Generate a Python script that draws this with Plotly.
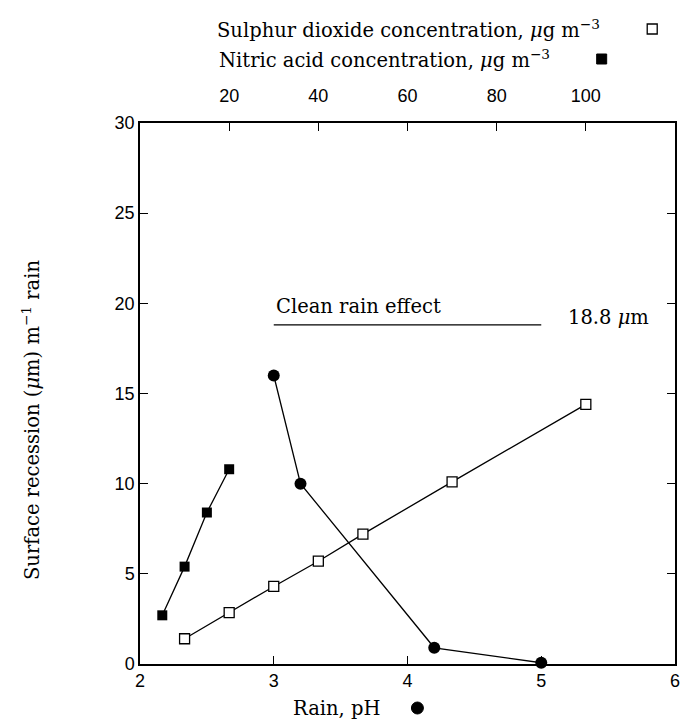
import plotly.graph_objects as go

# Data
so2_conc = [10, 20, 30, 40, 50, 70, 100]
so2_recession = [1.4, 2.85, 4.3, 5.7, 7.2, 10.1, 14.4]
hno3_conc = [5, 10, 15, 20]
hno3_recession = [2.7, 5.4, 8.4, 10.8]
rain_ph = [3.0, 3.2, 4.2, 5.0]
ph_recession = [16.0, 10.0, 0.9, 0.07]
clean_rain_ph = [3.0, 5.0]
clean_rain_value = 18.8

ph_ticks = [2, 3, 4, 5, 6]
conc_ticks = [20, 40, 60, 80, 100]
y_ticks = [0, 5, 10, 15, 20, 25, 30]

TXT = "DejaVu Serif"
NUM = "Liberation Sans"
LC = "black"
FS = 19.5

fig = go.Figure()

fig.add_trace(go.Scatter(x=clean_rain_ph, y=[clean_rain_value] * 2, mode="lines",
                         line=dict(color=LC, width=1.3), xaxis="x", yaxis="y",
                         showlegend=False, hoverinfo="skip"))
fig.add_trace(go.Scatter(x=rain_ph, y=ph_recession, mode="lines+markers",
                         line=dict(color=LC, width=1.3),
                         marker=dict(symbol="circle", size=12, color=LC),
                         xaxis="x", yaxis="y", showlegend=False, cliponaxis=False))
fig.add_trace(go.Scatter(x=so2_conc, y=so2_recession, mode="lines+markers",
                         line=dict(color=LC, width=1.3),
                         marker=dict(symbol="square", size=10, color="white",
                                     line=dict(color=LC, width=1.3)),
                         xaxis="x2", yaxis="y", showlegend=False))
fig.add_trace(go.Scatter(x=hno3_conc, y=hno3_recession, mode="lines+markers",
                         line=dict(color=LC, width=1.3),
                         marker=dict(symbol="square", size=10, color=LC),
                         xaxis="x2", yaxis="y", showlegend=False))

L, R, T, B = 140, 2, 123, 61
W, H = 682, 725
pw, ph_ = W - L - R, H - T - B


def px(xp):
    return (xp - L) / pw


def py(yp):
    return (H - B - yp) / ph_


annotations = [
    dict(x=3.0, y=19.85, xref="x", yref="y", text="Clean rain effect", showarrow=False,
         xanchor="left", yanchor="middle", font=dict(family=TXT, size=FS, color=LC)),
    dict(x=5.5, y=19.2, xref="x", yref="y", text="18.8 <i>μ</i>m", showarrow=False,
         xanchor="center", yanchor="middle", font=dict(family=TXT, size=FS, color=LC)),
    dict(x=px(216), y=py(29), xref="paper", yref="paper",
         text="Sulphur dioxide concentration, <i>μ</i>g m<sup>−3</sup>", showarrow=False,
         xanchor="left", yanchor="middle", font=dict(family=TXT, size=FS, color=LC)),
    dict(x=px(218), y=py(59), xref="paper", yref="paper",
         text="Nitric acid concentration, <i>μ</i>g m<sup>−3</sup>", showarrow=False,
         xanchor="left", yanchor="middle", font=dict(family=TXT, size=FS, color=LC)),
    dict(x=px(30), y=py(420), xref="paper", yref="paper", textangle=-90,
         text="Surface recession (<i>μ</i>m) m<sup>−1</sup> rain", showarrow=False,
         xanchor="center", yanchor="middle", font=dict(family=TXT, size=FS, color=LC)),
    dict(x=px(338), y=py(708), xref="paper", yref="paper", text="Rain, pH", showarrow=False,
         xanchor="center", yanchor="middle", font=dict(family=TXT, size=FS, color=LC)),
]

shapes = [
    dict(type="rect", xref="paper", yref="paper", xsizemode="pixel", ysizemode="pixel",
         xanchor=px(657), yanchor=py(29), x0=-5, x1=5, y0=-5, y1=5,
         line=dict(color=LC, width=1.3), fillcolor="white"),
    dict(type="rect", xref="paper", yref="paper", xsizemode="pixel", ysizemode="pixel",
         xanchor=px(606), yanchor=py(59), x0=-5, x1=5, y0=-5, y1=5,
         line=dict(color=LC, width=1), fillcolor=LC),
    dict(type="circle", xref="paper", yref="paper", xsizemode="pixel", ysizemode="pixel",
         xanchor=px(420), yanchor=py(708), x0=-6, x1=6, y0=-6, y1=6,
         line=dict(color=LC, width=1), fillcolor=LC),
]

fig.update_layout(
    width=W, height=H,
    margin=dict(l=L, r=R, t=T, b=B),
    paper_bgcolor="white", plot_bgcolor="white",
    showlegend=False,
    xaxis=dict(range=[2, 6], tickvals=ph_ticks, ticks="inside", ticklen=8,
               tickcolor=LC, tickwidth=1.2, showgrid=False, zeroline=False,
               showline=True, linecolor=LC, linewidth=1.5, mirror=False,
               ticklabeloverflow="allow",
               tickfont=dict(family=NUM, size=18, color=LC)),
    xaxis2=dict(range=[0, 120], tickvals=conc_ticks, overlaying="x", side="top",
                ticks="inside", ticklen=8, tickcolor=LC, tickwidth=1.2,
                showgrid=False, zeroline=False, showline=True, linecolor=LC,
                linewidth=1.5, ticklabelstandoff=12,
                tickfont=dict(family=NUM, size=18, color=LC)),
    yaxis=dict(range=[0, 30], tickvals=y_ticks, ticks="inside", ticklen=8,
               tickcolor=LC, tickwidth=1.2, showgrid=False, zeroline=False,
               showline=True, linecolor=LC, linewidth=1.5, mirror="ticks",
               tickfont=dict(family=NUM, size=18, color=LC)),
    annotations=annotations,
    shapes=shapes,
)

fig.write_html("out.html")
